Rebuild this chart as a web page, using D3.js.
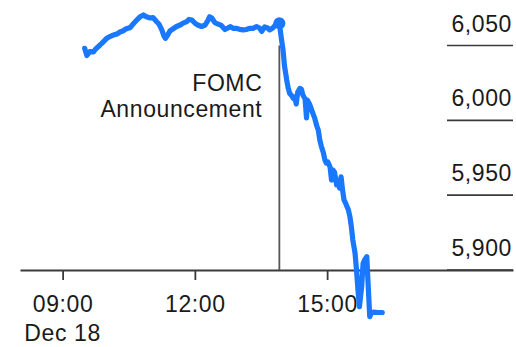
<!DOCTYPE html>
<html>
<head>
<meta charset="utf-8">
<script src="https://cdn.jsdelivr.net/npm/d3@7"></script>
<style>
  html, body { margin: 0; padding: 0; background: #fff; }
  svg { display: block; }
  text { font-family: "Liberation Sans", Arial, Helvetica, sans-serif; fill: #1a1a1a; }
</style>
</head>
<body>
<svg id="chart" width="516" height="347"></svg>
<script>
// S&P 500 intraday, Dec 18 (ET)
const times = [
  "09:30","09:33","09:37","09:42","09:45","09:51","09:55","10:00","10:04","10:09",
  "10:14","10:18","10:22","10:26","10:32","10:36","10:41","10:45","10:50","10:54",
  "10:59","11:03","11:08","11:11","11:15","11:18","11:20","11:23","11:26","11:30",
  "11:35","11:40","11:44","11:49","11:52","11:56","12:00","12:04","12:09","12:14",
  "12:18","12:20","12:23","12:27","12:31","12:36","12:41","12:45","12:48","12:52",
  "12:57","13:01","13:06","13:10","13:15","13:19","13:24","13:28","13:31","13:35",
  "13:39","13:42","13:46","13:51","13:55","13:58","14:00","14:02","14:05","14:07",
  "14:09","14:12","14:14","14:16","14:18","14:20","14:23","14:25","14:27","14:30",
  "14:32","14:33","14:36","14:39","14:41","14:43","14:46","14:48","14:50","14:52",
  "14:55","14:57","14:59","15:01","15:04","15:06","15:08","15:10","15:13","15:15",
  "15:17","15:19","15:21","15:23","15:25","15:29","15:31","15:33","15:35","15:38",
  "15:40","15:42","15:44","15:47","15:49","15:51","15:54","15:56","15:58","16:00",
  "16:03","16:09","16:15"
];
const values = [
  6048.1,6043.3,6045.9,6045.7,6047.7,6050.3,6052.3,6054.8,6055.9,6057.0,
  6057.7,6059.0,6059.7,6061.0,6062.0,6064.4,6067.0,6069.0,6070.4,6069.2,
  6068.4,6068.7,6065.9,6064.4,6060.4,6056.3,6054.8,6057.0,6059.7,6061.0,
  6062.7,6063.7,6065.0,6066.0,6067.4,6067.0,6065.0,6063.7,6062.7,6063.7,
  6067.0,6069.2,6068.4,6065.4,6064.4,6063.4,6060.7,6061.7,6062.6,6061.5,
  6061.4,6060.8,6060.4,6060.7,6061.5,6061.4,6062.6,6061.7,6059.4,6062.4,
  6061.7,6060.4,6061.7,6064.4,6064.8,6053.7,6047.0,6036.3,6027.0,6021.6,
  6018.1,6016.3,6014.6,6015.6,6010.9,6018.9,6021.3,6020.9,6016.9,6014.3,
  6001.6,6013.6,6010.9,6006.9,6004.2,6001.6,5996.2,5993.5,5986.9,5982.9,
  5978.2,5973.5,5971.5,5972.2,5968.8,5960.1,5966.8,5965.5,5956.8,5958.1,
  5954.8,5962.3,5953.5,5946.8,5944.8,5940.1,5935.6,5928.9,5920.0,5911.4,
  5900.0,5886.6,5875.5,5888.8,5904.5,5906.7,5908.9,5888.8,5868.8,5871.3,
  5871.9,5871.6,5871.6
];

const xTicks = ["09:00", "12:00", "15:00"];
const dateLabel = "Dec 18";
const yTicks = [5900, 5950, 6000, 6050];
const eventTime = "13:55";
const eventLabel = ["FOMC", "Announcement"];
const timeDomain = ["08:02", "19:13"];
const valueDomain = [5900, 6050];

const parse = d3.timeParse("%Y-%m-%d %H:%M");
const at = t => parse("2024-12-18 " + t);

const svg = d3.select("#chart");
const W = 516;
const ink = "#1a1a1a";
const axisInk = "#3a3a3a";
const blue = "#1a78ff";

const x = d3.scaleTime().domain(timeDomain.map(at)).range([20, 513]);
const y = d3.scaleLinear().domain(valueDomain).range([270, 45.5]);

const fontSize = 23;
const spacing = "0.6px";

// Right-side value scale: short rules with labels sitting above them
const yAxis = svg.append("g").attr("class", "y-axis");
const yt = yAxis.selectAll("g").data(yTicks).join("g")
  .attr("transform", d => `translate(0,${y(d)})`);
yt.append("line")
  .attr("x1", 447).attr("x2", W - 3)
  .attr("stroke", axisInk).attr("stroke-width", 1.6);
yt.append("text")
  .attr("x", W - 4).attr("y", -14)
  .attr("text-anchor", "end")
  .attr("font-size", fontSize)
  .attr("letter-spacing", spacing)
  .text(d => d3.format(",")(d));

// Bottom time axis
const xAxis = d3.axisBottom(x)
  .tickValues(xTicks.map(at))
  .tickFormat(d3.timeFormat("%H:%M"))
  .tickSize(10)
  .tickSizeOuter(0)
  .tickPadding(0);
const gx = svg.append("g").attr("transform", `translate(0,${y(valueDomain[0])})`).call(xAxis);
gx.select(".domain").attr("stroke", axisInk).attr("stroke-width", 1.8);
gx.selectAll(".tick line").attr("stroke", axisInk).attr("stroke-width", 1.8);
gx.selectAll(".tick text")
  .attr("font-size", fontSize)
  .attr("letter-spacing", spacing)
  .attr("fill", ink)
  .attr("dy", null)
  .attr("y", 42);
gx.attr("font-family", null).attr("font-size", null);
gx.append("text")
  .attr("x", x(at(xTicks[0])))
  .attr("y", 71)
  .attr("text-anchor", "middle")
  .attr("font-size", fontSize)
  .attr("letter-spacing", spacing)
  .attr("fill", ink)
  .text(dateLabel);

// Announcement marker
const ex = x(at(eventTime));
svg.append("line")
  .attr("x1", ex).attr("x2", ex)
  .attr("y1", y(6050)).attr("y2", y(valueDomain[0]))
  .attr("stroke", "#555").attr("stroke-width", 1.8);
const lbl = svg.append("text")
  .attr("text-anchor", "end")
  .attr("font-size", fontSize)
  .attr("letter-spacing", spacing);
eventLabel.forEach((s, i) => {
  lbl.append("tspan").attr("x", ex - 17).attr("y", 91 + i * 26).text(s);
});

// Price line
const series = times.map((t, i) => ({ t: at(t), v: values[i] }));
const line = d3.line().x(d => x(d.t)).y(d => y(d.v));
svg.append("path")
  .datum(series)
  .attr("d", line)
  .attr("fill", "none")
  .attr("stroke", blue)
  .attr("stroke-width", 5.2)
  .attr("stroke-linejoin", "round")
  .attr("stroke-linecap", "round");

const ev = series.find(d => +d.t === +at(eventTime));
svg.append("circle")
  .attr("cx", x(ev.t)).attr("cy", y(ev.v))
  .attr("r", 6)
  .attr("fill", blue);
</script>
</body>
</html>
